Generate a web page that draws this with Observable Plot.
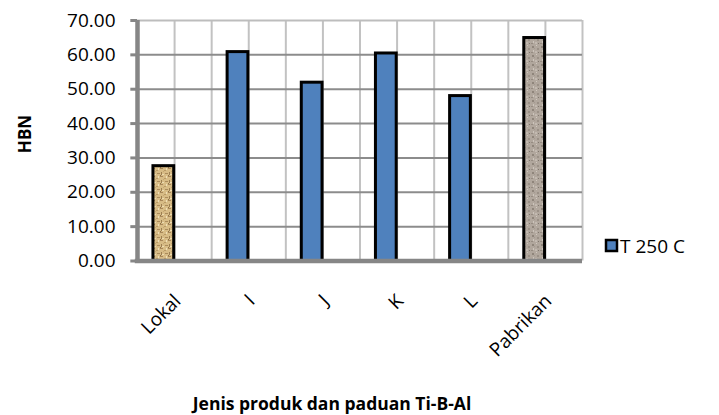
<!DOCTYPE html>
<html>
<head>
<meta charset="utf-8">
<script src="https://cdn.jsdelivr.net/npm/d3@7"></script>
<script src="https://cdn.jsdelivr.net/npm/@observablehq/plot@0.6"></script>
<style>
  html, body { margin: 0; padding: 0; background: #fff; }
  svg { display: block; }
</style>
</head>
<body>
<div id="chart"></div>
<script>
// ---- data ----
const categories = ["Lokal", "I", "J", "K", "L", "Pabrikan"];
const values = [27.6, 60.8, 51.9, 60.4, 48.0, 64.9];
const yTicks = [0, 10, 20, 30, 40, 50, 60, 70];
const seriesName = "T 250 C";
const xTitle = "Jenis produk dan paduan Ti-B-Al";
const yTitle = "HBN";

const rows = categories.map((c, i) => ({cat: c, i, v: values[i]}));
const gridX = d3.range(1, 2 * categories.length + 1).map(k => k / 2);

const font = "'Open Sans', sans-serif";

const barMark = (data, fill) => Plot.rect(data, {
  x1: d => d.i + 0.215, x2: d => d.i + 0.495,
  y1: 0, y2: "v",
  fill, stroke: "#000", strokeWidth: 3
});

const svg = Plot.plot({
  width: 719, height: 415,
  marginLeft: 137, marginRight: 137, marginTop: 20, marginBottom: 154.5,
  style: {fontFamily: font, fontSize: "19px", color: "#000", background: "#fff"},
  x: {type: "linear", domain: [0, categories.length], axis: null},
  y: {type: "linear", domain: [0, 70], axis: null},
  marks: [
    Plot.ruleX(gridX, {stroke: "#c2c2c2", strokeWidth: 2}),
    Plot.ruleY(yTicks.filter(d => d > 0 && d < 70), {stroke: "#8c8c8c", strokeWidth: 2}),
    Plot.ruleY([70], {stroke: "#bdbdbd", strokeWidth: 2}),
    barMark(rows.filter(d => d.cat !== "Lokal" && d.cat !== "Pabrikan"), "#4f81bd"),
    barMark(rows.filter(d => d.cat === "Lokal"), "url(#tanPat)"),
    barMark(rows.filter(d => d.cat === "Pabrikan"), "url(#granitePat)"),
    Plot.ruleY(yTicks, {y: d => d, x1: -0.09, x2: 0, stroke: "#868686", strokeWidth: 3}),
    Plot.ruleY([0], {y: d => d, stroke: "#868686", strokeWidth: 4.5, x1: -0.03, x2: categories.length}),
    Plot.ruleX([0], {x: d => d, stroke: "#868686", strokeWidth: 4.5, y1: 0, y2: 70}),
    Plot.text(yTicks, {x: 0, y: d => d, text: d => d.toFixed(2), textAnchor: "end", dx: -22, fontSize: 19, fill: "#000"}),
    Plot.text(rows, {x: d => d.i + 0.5, y: 0, text: "cat", rotate: -45, textAnchor: "end", dx: 3, dy: 37, fontSize: 19, fill: "#000"})
  ]
});

const s = d3.select(svg);
const defs = s.insert("defs", ":first-child");
// tan woven texture
const tan = defs.append("pattern").attr("id", "tanPat").attr("patternUnits", "userSpaceOnUse")
  .attr("width", 8).attr("height", 8);
tan.append("rect").attr("width", 8).attr("height", 8).attr("fill", "#d8bc86");
[[0,0,3,1,"#a8875a"],[4,2,2,1,"#b99a66"],[1,4,1,3,"#9d7f52"],[5,5,3,1,"#ab8b5c"],[6,0,1,2,"#efdfb8"],[2,6,2,1,"#eddcb3"],[3,3,1,1,"#c4a671"],[0,7,1,1,"#8e7249"]]
  .forEach(([x,y,w,h,c]) => tan.append("rect").attr("x",x).attr("y",y).attr("width",w).attr("height",h).attr("fill",c));
// granite texture
const gr = defs.append("pattern").attr("id", "granitePat").attr("patternUnits", "userSpaceOnUse")
  .attr("width", 9).attr("height", 9);
gr.append("rect").attr("width", 9).attr("height", 9).attr("fill", "#b1a79d");
[[1,1,2,2,"#8f857b"],[5,0,1,1,"#d0c8bf"],[6,3,2,2,"#9b9187"],[2,5,1,2,"#cdc5bc"],[0,7,2,1,"#968c82"],[4,6,2,2,"#c2b9b0"],[7,7,1,1,"#7f766d"],[3,3,1,1,"#a39990"]]
  .forEach(([x,y,w,h,c]) => gr.append("rect").attr("x",x).attr("y",y).attr("width",w).attr("height",h).attr("fill",c));

// axis titles
s.append("text").attr("transform", "translate(24,134) rotate(-90)")
  .attr("text-anchor", "middle").attr("dominant-baseline", "central")
  .attr("font-family", font).attr("font-weight", "bold").attr("font-size", 17).attr("fill", "#000")
  .text(yTitle);
s.append("text").attr("x", 332).attr("y", 403)
  .attr("text-anchor", "middle").attr("dominant-baseline", "central")
  .attr("font-family", font).attr("font-weight", "bold").attr("font-size", 17.5).attr("fill", "#000")
  .text(xTitle);

// legend
const lg = s.append("g");
lg.append("rect").attr("x", 606).attr("y", 240).attr("width", 11).attr("height", 11)
  .attr("fill", "#4f81bd").attr("stroke", "#000").attr("stroke-width", 2.5);
lg.append("text").attr("x", 620).attr("y", 246).attr("dominant-baseline", "central")
  .attr("text-anchor", "start")
  .attr("font-family", font).attr("font-size", 19).attr("fill", "#000").text(seriesName);

document.getElementById("chart").appendChild(svg);
</script>
</body>
</html>
